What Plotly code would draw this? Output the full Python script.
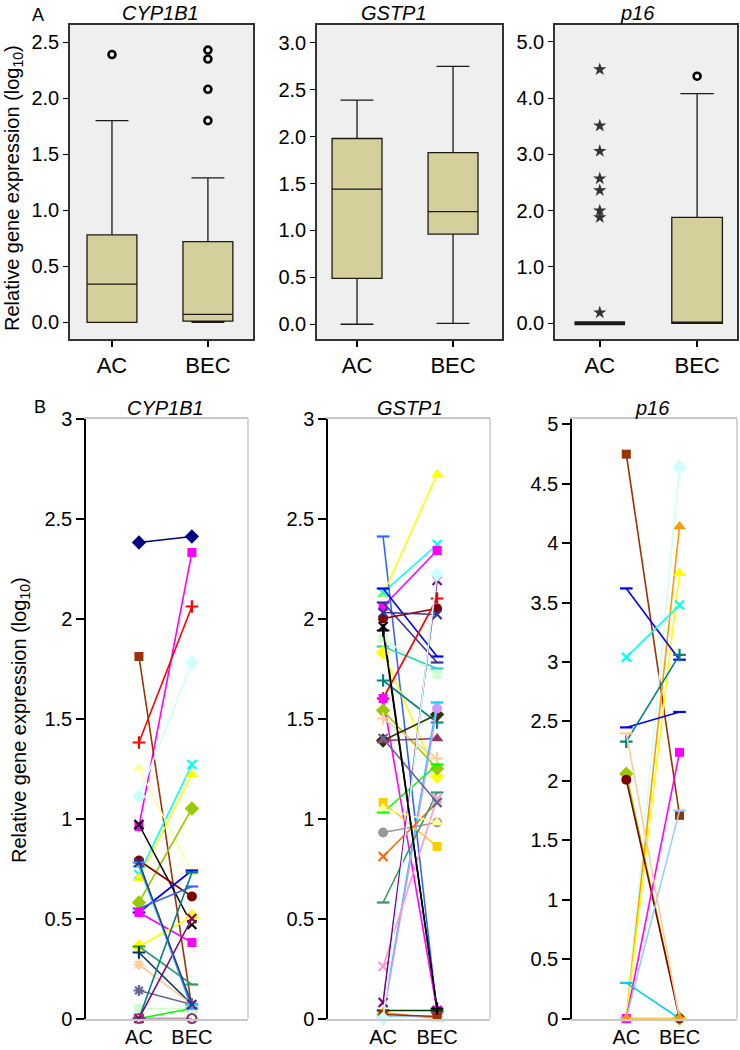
import plotly.graph_objects as go

# ---------------- DATA ----------------
groups = ["AC", "BEC"]
genes = ["CYP1B1", "GSTP1", "p16"]

# Panel A: box statistics (AC, BEC)
cyp_q1 = [0.0, 0.01]
cyp_med = [0.34, 0.07]
cyp_q3 = [0.78, 0.72]
cyp_lo = [0.0, 0.0]
cyp_hi = [1.80, 1.29]
cyp_out_ac = [2.39]
cyp_out_bec = [1.80, 2.08, 2.35, 2.43]

gst_q1 = [0.49, 0.96]
gst_med = [1.44, 1.20]
gst_q3 = [1.98, 1.83]
gst_lo = [0.0, 0.01]
gst_hi = [2.39, 2.75]

p16_q1 = [0.0, 0.0]
p16_med = [0.0, 0.0]
p16_q3 = [0.0, 1.88]
p16_lo = [0.0, 0.0]
p16_hi = [0.0, 4.08]
p16_ext_ac = [4.51, 3.51, 3.06, 2.57, 2.36, 2.00, 1.88, 0.19]
p16_out_bec = [4.39]

# Panel B: paired values (AC -> BEC)
cyp_ac = [2.38, 0.96, 1.38, 1.81, 1.11, 0.72, 1.25, 0.70, 0.58, 0.97, 0.79, 0.53, 0.55, 0.53,
          0.36, 0.36, 0.33, 0.27, 0.14, 0.05, 0.00, 0.00, 0.00, 0.78, 0.76, 0.00, 0.78]
cyp_bec = [2.41, 2.33, 2.06, 0.05, 1.78, 1.27, 0.73, 1.22, 1.05, 0.47, 0.61, 0.74, 0.66, 0.38,
           0.51, 0.17, 0.07, 0.07, 0.07, 0.05, 0.05, 0.73, 0.50, 0.05, 0.07, 0.00, 0.07]

gst_ac = [2.41, 2.12, 2.13, 2.06, 2.15, 2.08, 2.00, 2.03, 1.96, 1.90, 1.86, 1.83, 1.69, 1.60,
          1.60, 1.54, 1.50, 1.39, 1.39, 0.02, 0.01, 1.03, 1.08, 0.93, 0.81, 0.58, 0.26, 0.08,
          0.04, 0.03, 0.01, 0.02, 0.00, 1.40, 1.05, 1.94]
gst_bec = [0.03, 2.72, 2.37, 2.34, 1.81, 1.78, 2.05, 2.02, 0.04, 1.72, 1.75, 1.21, 1.48, 2.10,
           0.04, 1.25, 1.30, 1.52, 1.40, 1.58, 1.55, 1.27, 0.86, 0.98, 1.08, 1.13, 1.10, 2.19,
           0.04, 0.00, 0.01, 0.01, 2.22, 1.08, 0.98, 0.05]

p16_ac = [4.75, 0.00, 0.00, 0.00, 3.62, 3.04, 2.45, 2.33, 2.06, 2.01, 0.00, 0.00, 0.30, 2.40,
          0.00, 0.00]
p16_bec = [1.71, 4.64, 4.14, 3.75, 3.02, 3.48, 2.58, 3.06, 0.00, 0.00, 2.24, 1.75, 0.00, 0.00,
           0.00, 0.00]

# ---------------- STYLES ----------------
cyp_colors = ["#000080", "#FF00FF", "#FF0000", "#993300", "#CCFFFF", "#00FFFF", "#FFFF99",
              "#FFFF00", "#99CC00", "#000000", "#800000", "#0000FF", "#3366FF", "#FF00FF",
              "#FFFF00", "#339966", "#003366", "#FFCC99", "#666699", "#CCFFCC", "#00FF00",
              "#008080", "#800080", "#3399FF", "#33CCCC", "#993366", "#333399"]
cyp_symbols = ["diamond", "square", "cross-thin-open", "square", "diamond", "x-thin-open",
               "triangle-up", "triangle-up", "diamond", "x-thin-open", "circle", "line-ew-open",
               "line-ew-open", "square", "diamond", "line-ew-open", "cross-thin-open",
               "asterisk-open", "asterisk-open", "square", "line-ew-open", "line-ew-open",
               "x-thin-open", "line-ew-open", "line-ew-open", "circle-open", "x-thin-open"]

gst_colors = ["#3366FF", "#FFFF00", "#00FFFF", "#FF00FF", "#0000FF", "#333399", "#800000",
              "#333399", "#000000", "#CCFFCC", "#33CCCC", "#FFFF00", "#008080", "#FF0000",
              "#FF00FF", "#99CC00", "#FFCC99", "#333300", "#993366", "#00CCFF", "#CC99FF",
              "#00FF00", "#FFCC00", "#999999", "#FF6600", "#339966", "#FF99CC", "#800080",
              "#003300", "#FF9900", "#99CCFF", "#993300", "#CCFFFF", "#666699", "#FFFF99",
              "#000000"]
gst_symbols = ["line-ew-open", "triangle-up", "x-thin-open", "square", "line-ew-open",
               "line-ew-open", "circle", "x-thin-open", "x-thin-open", "square", "line-ew-open",
               "diamond", "cross-thin-open", "cross-thin-open", "square", "diamond",
               "cross-thin-open", "diamond", "triangle-up", "line-ew-open", "circle",
               "line-ew-open", "square", "circle", "x-thin-open", "line-ew-open", "x-thin-open",
               "x-thin-open", "line-ew-open", "triangle-up", "line-ew-open", "square", "diamond",
               "x-thin-open", "triangle-up", "cross-thin-open"]

p16_colors = ["#993300", "#CCFFFF", "#FF9900", "#FFFF00", "#0000FF", "#00FFFF", "#0000FF",
              "#008080", "#99CC00", "#800000", "#FF00FF", "#99CCFF", "#00CCFF", "#FFCC99",
              "#FFFF00", "#FF9900"]
p16_symbols = ["square", "diamond", "triangle-up", "triangle-up", "line-ew-open", "x-thin-open",
               "line-ew-open", "cross-thin-open", "diamond", "circle", "square", "line-ew-open",
               "line-ew-open", "line-ew-open", "triangle-up", "triangle-up"]

W, H = 740, 1050
FONT = "Liberation Sans, Arial, sans-serif"
BOX_FILL = "#D5CF9C"
GREY_BG = "#EFEFEF"


def fx(p):
    return p / W


def fy(p):
    return 1 - p / H


fig = go.Figure()

# ---------------- PANEL A ----------------
def add_box(xa, ya, xs, q1, med, q3, lo, hi, lw=1.3):
    fig.add_trace(go.Box(
        x=xs, q1=q1, median=med, q3=q3, lowerfence=lo, upperfence=hi,
        xaxis=xa, yaxis=ya, fillcolor=BOX_FILL,
        line=dict(color="#1a1a1a", width=lw), width=0.52, whiskerwidth=0.66,
        boxpoints=False, hoverinfo="skip"))


def add_outliers(xa, ya, xpos, vals, kind):
    if kind == "circle":
        marker = dict(symbol="circle-open", size=7, color="black", line=dict(color="black", width=2.6))
    else:
        marker = dict(symbol="star", size=10, color="#333333", line=dict(width=0))
    fig.add_trace(go.Scatter(x=[xpos] * len(vals), y=vals, mode="markers", marker=marker,
                             xaxis=xa, yaxis=ya, cliponaxis=False, hoverinfo="skip"))


add_box("x", "y", [0, 1], cyp_q1, cyp_med, cyp_q3, cyp_lo, cyp_hi)
add_outliers("x", "y", 0, cyp_out_ac, "circle")
add_outliers("x", "y", 1, cyp_out_bec, "circle")

add_box("x2", "y2", [0, 1], gst_q1, gst_med, gst_q3, gst_lo, gst_hi)

add_box("x3", "y3", [0], p16_q1[:1], p16_med[:1], p16_q3[:1], p16_lo[:1], p16_hi[:1], lw=4)
add_box("x3", "y3", [1], p16_q1[1:], p16_med[1:], p16_q3[1:], p16_lo[1:], p16_hi[1:])
add_outliers("x3", "y3", 0, p16_ext_ac, "star")
add_outliers("x3", "y3", 1, p16_out_bec, "circle")


# ---------------- PANEL B ----------------
def marker_for(sym, c):
    if sym.endswith("-open"):
        return dict(symbol=sym, size=9, color=c, line=dict(color=c, width=2.2))
    size = {"diamond": 11, "square": 9, "triangle-up": 11, "circle": 10}.get(sym, 9)
    return dict(symbol=sym, size=size, color=c, line=dict(width=0))


def add_pairs(xa, ya, ac, bec, colors, symbols):
    for a, b, c, s in zip(ac, bec, colors, symbols):
        fig.add_trace(go.Scatter(
            x=[0, 1], y=[a, b], mode="lines+markers",
            line=dict(color=c, width=1.6), marker=marker_for(s, c),
            xaxis=xa, yaxis=ya, cliponaxis=False, hoverinfo="skip"))


add_pairs("x4", "y4", cyp_ac, cyp_bec, cyp_colors, cyp_symbols)
add_pairs("x5", "y5", gst_ac, gst_bec, gst_colors, gst_symbols)
add_pairs("x6", "y6", p16_ac, p16_bec, p16_colors, p16_symbols)

# ---------------- LAYOUT ----------------
tickfont = dict(family=FONT, size=20, color="black")
xlabfont = dict(family=FONT, size=22, color="black")
xlabfont_b = dict(family=FONT, size=20, color="black")

A_y = [fy(339), fy(25)]
B_y = [fy(1018.5), fy(418.5)]

A_x = [[fx(70), fx(253)], [fx(317), fx(502)], [fx(555), fx(737)]]
A_xr = [[-0.4375, 1.47], [-0.417, 1.51], [-0.46, 1.41]]
A_yr = [[-0.149, 2.654], [-0.157, 3.19], [-0.28, 5.30]]
A_dt = [0.5, 0.5, 1.0]

B_x = [[fx(86), fx(248)], [fx(328), fx(490)], [fx(572), fx(737)]]
B_xr = [[-1.0, 2.06], [-1.02, 1.98], [-1.02, 2.08]]
B_yr = [[0, 3], [0, 3], [0, 5.05]]

layout = dict(
    width=W, height=H, margin=dict(l=0, r=0, t=0, b=0, autoexpand=False),
    paper_bgcolor="white", plot_bgcolor="white", showlegend=False,
    boxmode="overlay", font=dict(family=FONT, color="black"),
)

shapes = []
for i in range(3):
    n = i + 1
    xk = "xaxis" if n == 1 else f"xaxis{n}"
    yk = "yaxis" if n == 1 else f"yaxis{n}"
    xr = "x" if n == 1 else f"x{n}"
    yr = "y" if n == 1 else f"y{n}"
    layout[xk] = dict(domain=A_x[i], anchor=yr, range=A_xr[i], tickvals=[0, 1], ticktext=groups,
                      ticks="outside", ticklen=6, tickwidth=1.5, tickcolor="black",
                      showline=True, linecolor="#333333", linewidth=1.5, mirror=True,
                      showgrid=False, zeroline=False, tickfont=xlabfont, automargin=False)
    layout[yk] = dict(domain=A_y, anchor=xr, range=A_yr[i], dtick=A_dt[i], tick0=0,
                      tickformat=".1f", ticks="outside", ticklen=5, tickcolor="black",
                      showline=True, linecolor="#333333", linewidth=1.5, mirror=True,
                      showgrid=False, zeroline=False, tickfont=tickfont, automargin=False)
    shapes.append(dict(type="rect", xref=f"{xr} domain", yref=f"{yr} domain",
                       x0=0, x1=1, y0=0, y1=1, fillcolor=GREY_BG, line=dict(width=0), layer="below"))

for i in range(3):
    n = i + 4
    xr, yr = f"x{n}", f"y{n}"
    layout[f"xaxis{n}"] = dict(domain=B_x[i], anchor=yr, range=B_xr[i], tickvals=[0, 1],
                               ticktext=groups, ticks="", showline=True, linecolor="#C8C8C8",
                               linewidth=1.5, mirror=True, showgrid=False, zeroline=False,
                               tickfont=xlabfont_b, automargin=False, ticklabelstandoff=0)
    layout[f"yaxis{n}"] = dict(domain=B_y, anchor=xr, range=B_yr[i], dtick=0.5, tick0=0,
                               ticks="outside", ticklen=8, tickwidth=1.5, tickcolor="black",
                               showline=True, linecolor="black", linewidth=1.5, mirror=False,
                               showgrid=False, zeroline=False, tickfont=tickfont, automargin=False)
    shapes.append(dict(type="line", xref=f"{xr} domain", yref=f"{yr} domain",
                       x0=1, x1=1, y0=0, y1=1, line=dict(color="#C8C8C8", width=1.5)))

layout["shapes"] = shapes

ann = []
title_font = dict(family=FONT, size=20, color="black")
A_titles_x = [160, 394, 637]
B_titles_x = [165, 410, 652]
for g, tx in zip(genes, A_titles_x):
    ann.append(dict(text=f"<i>{g}</i>", x=fx(tx), y=fy(13), xref="paper", yref="paper",
                    showarrow=False, font=title_font, xanchor="center", yanchor="middle"))
for g, tx in zip(genes, B_titles_x):
    ann.append(dict(text=f"<i>{g}</i>", x=fx(tx), y=fy(408), xref="paper", yref="paper",
                    showarrow=False, font=title_font, xanchor="center", yanchor="middle"))
ann.append(dict(text="A", x=fx(38), y=fy(15), xref="paper", yref="paper", showarrow=False,
                font=dict(family=FONT, size=18, color="black"), xanchor="center", yanchor="middle"))
ann.append(dict(text="B", x=fx(40), y=fy(407), xref="paper", yref="paper", showarrow=False,
                font=dict(family=FONT, size=18, color="black"), xanchor="center", yanchor="middle"))
ytitle = "Relative gene expression (log<sub>10</sub>)"
ann.append(dict(text=ytitle, x=fx(14), y=fy(188), xref="paper", yref="paper", showarrow=False,
                textangle=-90, font=dict(family=FONT, size=20, color="black"),
                xanchor="center", yanchor="middle"))
ann.append(dict(text=ytitle, x=fx(20), y=fy(720), xref="paper", yref="paper", showarrow=False,
                textangle=-90, font=dict(family=FONT, size=20, color="black"),
                xanchor="center", yanchor="middle"))
layout["annotations"] = ann

fig.update_layout(**layout)
fig.write_html("out.html", config={"displayModeBar": False},
               post_script="document.body.style.margin='0px';document.body.style.padding='0px';")
